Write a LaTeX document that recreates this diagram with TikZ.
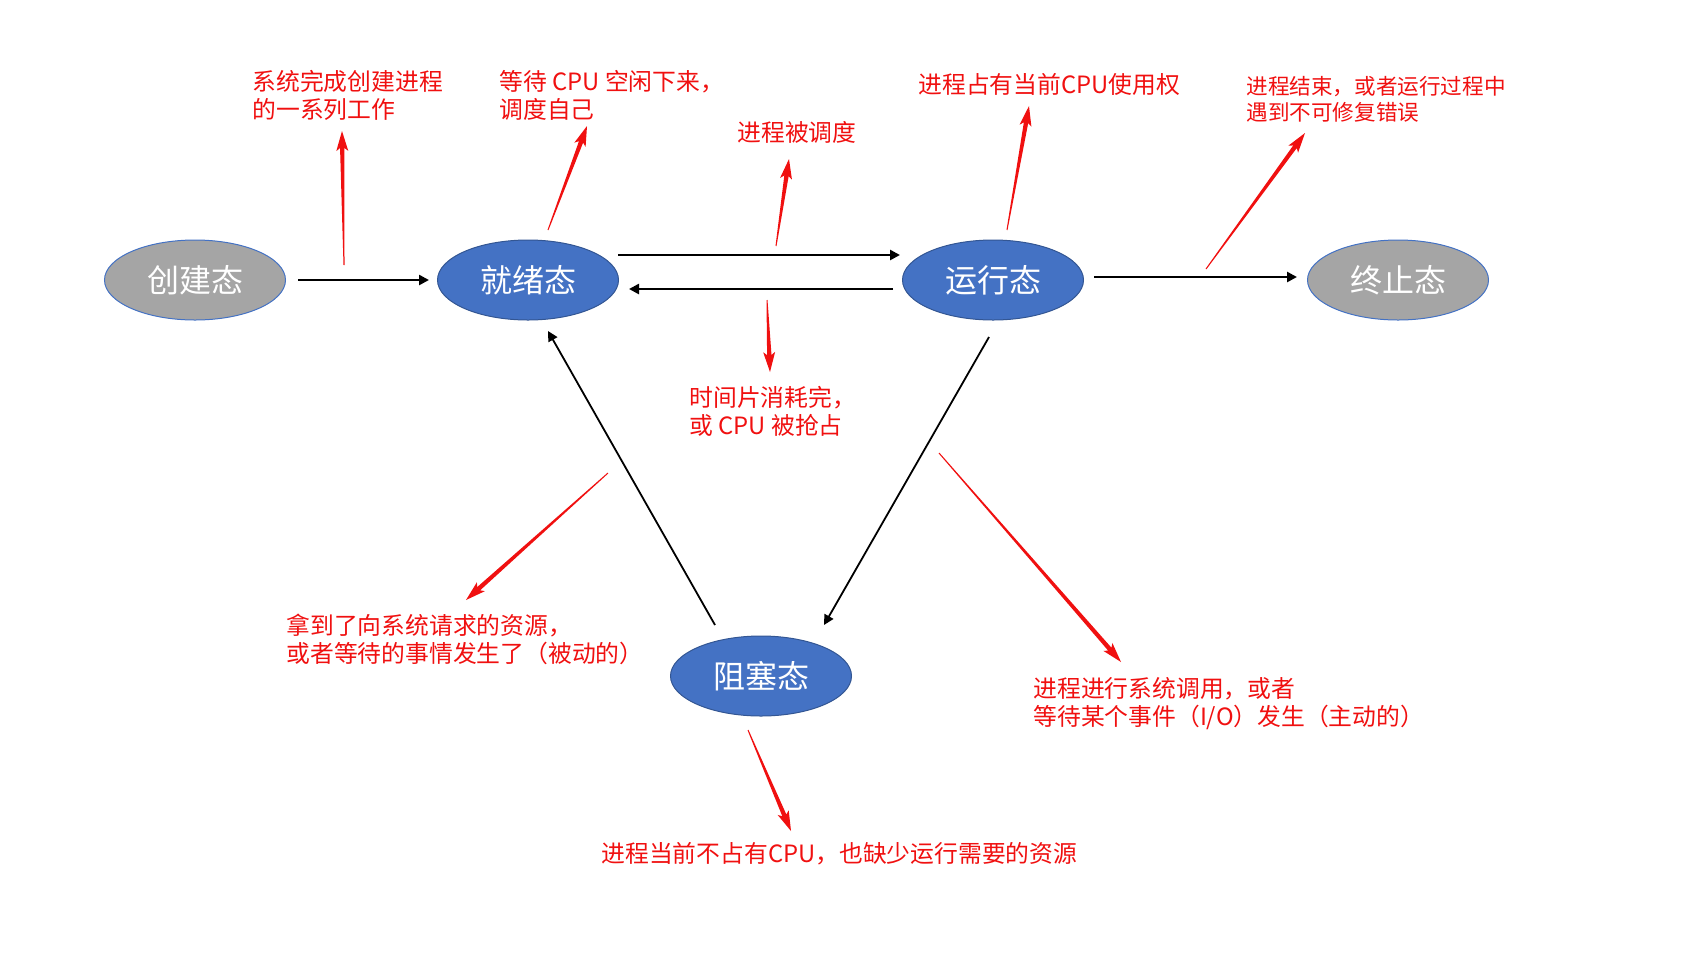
\documentclass[tikz,border=0pt]{standalone}
\usepackage{fontspec}
\setmainfont{Noto Sans CJK SC}
\usetikzlibrary{arrows.meta,calc,shapes.geometric}
\definecolor{stateblue}{HTML}{4472C4}
\definecolor{stategray}{HTML}{A5A5A5}
\definecolor{notered}{HTML}{F01010}

\begin{document}
\begin{tikzpicture}[x=0.5pt, y=-0.5pt,
  state/.style={ellipse, draw=stateblue!75!black, line width=0.5pt, fill=stateblue, text=white,
    minimum width=90.5pt, minimum height=40pt, inner sep=0pt, font=\fontsize{16}{16}\selectfont},
  endstate/.style={state, fill=stategray, draw=stateblue},
  flow/.style={line width=1.4pt, -{Triangle[length=5pt,width=5pt]}},
  note/.style={text=notered, align=left, anchor=west, inner sep=0pt, font=\fontsize{11.9}{14}\selectfont}]
  \useasboundingbox (0,0) rectangle (1693,966);

  % states
  \node[endstate] (new) at (195,280) {创建态};
  \node[state] (ready) at (528,280) {就绪态};
  \node[state] (run) at (993,280) {运行态};
  \node[endstate] (exit) at (1398,280) {终止态};
  \node[state] (block) at (761,676) {阻塞态};

  % transitions
  \draw[flow, shorten <=6pt, shorten >=4pt] (new) -- (ready);
  \draw[flow] ([shift={(90,-25)}]ready.center) -- ([shift={(-93,-25)}]run.center);
  \draw[flow] ([shift={(-100,9)}]run.center) -- ([shift={(101,9)}]ready.center);
  \draw[flow, shorten <=5pt, shorten >=5pt] ([yshift=1.5pt]run.east) -- ([yshift=1.5pt]exit.west);
  \draw[flow, line width=0.9pt] ([shift={(-46,-51)}]block.center) -- ([shift={(20,51)}]ready.center);
  \draw[flow, line width=0.9pt] ([shift={(-4,57)}]run.center) -- ([shift={(63,-51)}]block.center);

  % notes
  \node[note] (n1) at (252,95.5) {系统完成创建进程\\的一系列工作};
  \node[note] (n2) at (499,95.5) {等待 CPU 空闲下来，\\调度自己};
  \node[note] (n3) at (737,132) {进程被调度};
  \node[note] (n4) at (918,84) {进程占有当前CPU使用权};
  \node[note, font=\fontsize{10.8}{13}\selectfont] (n5) at (1246,99) {进程结束，或者运行过程中\\遇到不可修复错误};
  \node[note] (n6) at (689,411.5) {时间片消耗完，\\或 CPU 被抢占};
  \node[note] (n7) at (286,639.5) {拿到了向系统请求的资源，\\或者等待的事情发生了（被动的）};
  \node[note] (n8) at (1033,704) {进程进行系统调用，或者\\等待某个事件（I/O）发生（主动的）};
  \node[note] (n9) at (601,854) {进程当前不占有CPU，也缺少运行需要的资源};

  % red pointers
  \foreach \tx/\ty/\hx/\hy [count=\i] in {344/265/342/131, 548/230/587/126, 776/246/789/159,
      767/300/770/372, 1007/230/1029/106, 1206/269/1305/133, 608/473/466/600,
      939/453/1121/662, 748/730/791/831} {
    \coordinate (t\i) at (\tx,\ty);
    \coordinate (h\i) at (\hx,\hy);
  }
  \foreach \i in {1,...,9} {
    \coordinate (b) at ($(h\i)!10pt!(t\i)$);
    \coordinate (m) at ($(h\i)!8.5pt!(t\i)$);
    \fill[notered] ($(t\i)!0.25pt!90:(h\i)$) -- ($(m)!1.1pt!-90:(t\i)$) -- ($(b)!3pt!-90:(t\i)$)
      -- (h\i) -- ($(b)!3pt!90:(t\i)$) -- ($(m)!1.1pt!90:(t\i)$) -- ($(t\i)!0.25pt!-90:(h\i)$) -- cycle;
  }
\end{tikzpicture}
\end{document}
